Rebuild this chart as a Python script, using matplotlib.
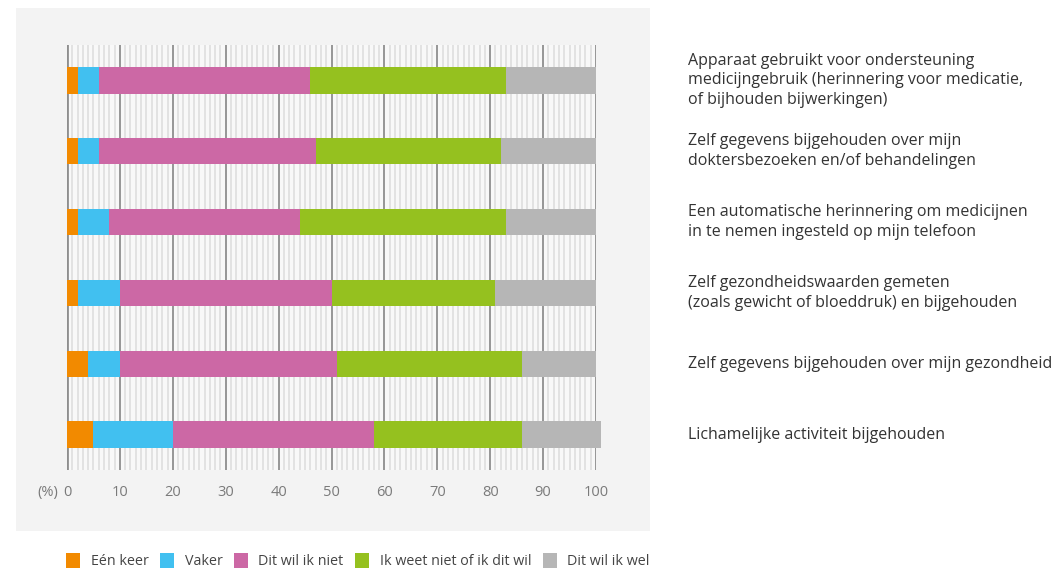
import matplotlib.pyplot as plt
from matplotlib.patches import Rectangle, Patch
import numpy as np

plt.rcParams['font.family'] = ['Open Sans', 'DejaVu Sans']

labels = [
    "Apparaat gebruikt voor ondersteuning\nmedicijngebruik (herinnering voor medicatie,\nof bijhouden bijwerkingen)",
    "Zelf gegevens bijgehouden over mijn\ndoktersbezoeken en/of behandelingen",
    "Een automatische herinnering om medicijnen\nin te nemen ingesteld op mijn telefoon",
    "Zelf gezondheidswaarden gemeten\n(zoals gewicht of bloeddruk) en bijgehouden",
    "Zelf gegevens bijgehouden over mijn gezondheid",
    "Lichamelijke activiteit bijgehouden",
]
series = ["Eén keer", "Vaker", "Dit wil ik niet", "Ik weet niet of ik dit wil", "Dit wil ik wel"]
een_keer = [2, 2, 2, 2, 4, 5]
vaker = [4, 4, 6, 8, 6, 15]
wil_niet = [40, 41, 36, 40, 41, 38]
weet_niet = [37, 35, 39, 31, 35, 28]
wil_wel = [17, 18, 17, 19, 14, 15]
colors = ["#f28a00", "#41c0f0", "#cc68a5", "#95c11f", "#b6b6b6"]
xticks = list(range(0, 101, 10))


def main():
    fig = plt.figure(figsize=(10.58, 5.74), dpi=100)
    fig.patch.set_facecolor("white")
    # light grey panel behind the chart
    fig.patches.append(Rectangle((16 / 1058, 1 - 531 / 574), 634 / 1058, 523 / 574,
                                 transform=fig.transFigure, facecolor="#f3f3f3",
                                 edgecolor="none", zorder=-5))

    ax = fig.add_axes([67 / 1058, 1 - 470 / 574, 529 / 1058, 425 / 574])
    ax.set_facecolor("#f8f8f8")
    ax.set_xlim(0, 100)
    ax.set_ylim(5.5, -0.5)

    # stripes: minor every unit, major every 10
    for xi in range(0, 101):
        if xi % 10 == 0:
            ax.axvline(xi, color="#8e8e8e", lw=1.3 if xi else 2.0, zorder=1)
        else:
            ax.axvline(xi, color="#e0e0e0", lw=1.3, zorder=1)

    y = np.arange(len(labels))
    left = np.zeros(len(labels))
    for vals, c in zip([een_keer, vaker, wil_niet, weet_niet, wil_wel], colors):
        ax.barh(y, vals, left=left, height=0.37, color=c, zorder=2, clip_on=False)
        left += np.array(vals)

    for sp in ax.spines.values():
        sp.set_visible(False)
    ax.set_yticks([])
    ax.set_xticks(xticks)
    ax.tick_params(axis="x", length=0, pad=11, labelsize=10.5, labelcolor="#7a7a7a")
    ax.text(-1.6, -0.035, "(%)", transform=ax.get_xaxis_transform(), ha="right", va="top",
            fontsize=10.5, color="#7a7a7a")

    for i, lab in enumerate(labels):
        ax.text(117.4, i, lab, ha="left", va="center", fontsize=11.5, color="#333333",
                linespacing=1.31, clip_on=False)

    handles = [Patch(facecolor=c, edgecolor="none") for c in colors]
    fig.legend(handles, series, loc="center left", bbox_to_anchor=(66 / 1058, 1 - 561 / 574),
               ncol=5, frameon=False, fontsize=10.3, handlelength=1.0, handleheight=1.3,
               handletextpad=0.72, columnspacing=0.8, labelcolor="#444444",
               borderpad=0, borderaxespad=0)

    fig.savefig("out.png", dpi=100)


if __name__ == "__main__":
    main()
